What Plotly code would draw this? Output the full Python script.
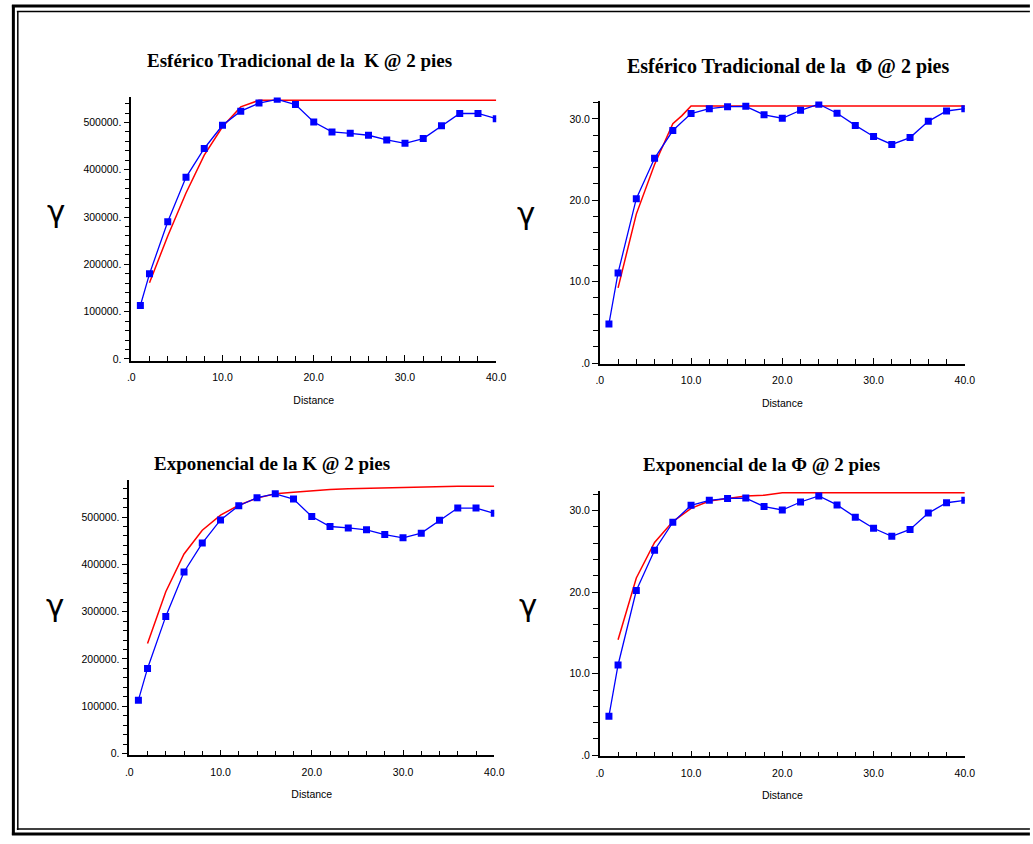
import plotly.graph_objects as go

# ---------------- data ----------------
lags = [1, 2, 4, 6, 8, 10, 12, 14, 16, 18, 20, 22, 24, 26, 28, 30, 32, 34, 36, 38, 40]
k_experimental = [113000, 180000, 290000, 384000, 445000, 494000, 524000, 541000, 549000, 538000,
                  501000, 480000, 477000, 473000, 463000, 456000, 466000, 493000, 519000, 519000, 508000]
phi_experimental = [4.8, 11.07, 20.2, 25.15, 28.57, 30.65, 31.26, 31.5, 31.54, 30.5,
                    30.08, 31.06, 31.8, 30.7, 29.2, 27.84, 26.86, 27.7, 29.7, 30.97, 31.26]

k_sph_lags = [2, 4, 6, 8, 10, 12, 14, 40]
k_spherical = [161000, 260000, 351000, 431000, 491000, 533000, 547000, 547000]

phi_sph_lags = [2, 4, 6, 8, 9, 10, 40]
phi_spherical = [9.24, 18.3, 24.4, 29.4, 30.4, 31.6, 31.6]

exp_lags = [2, 4, 6, 8, 10, 12, 14, 16, 18, 20, 22, 24, 26, 28, 30, 32, 34, 36, 38, 40]
k_exponential = [232500, 342000, 422000, 472000, 504000, 525000, 540000, 549000, 552500, 556000,
                 558000, 560000, 561000, 562000, 563000, 564000, 564500, 565000, 565000, 565000]
phi_exponential = [14.17, 21.75, 26.1, 28.66, 30.28, 31.18, 31.5, 31.8, 31.9, 32.2,
                   32.2, 32.2, 32.2, 32.2, 32.2, 32.2, 32.2, 32.2, 32.2, 32.2]

x_tick_vals = [0, 10, 20, 30, 40]
x_tick_text = [".0", "10.0", "20.0", "30.0", "40.0"]
k_tick_vals = [0, 100000, 200000, 300000, 400000, 500000]
k_tick_text = ["0.", "100000.", "200000.", "300000.", "400000.", "500000."]
phi_tick_vals = [0, 10, 20, 30]
phi_tick_text = [".0", "10.0", "20.0", "30.0"]

titles = ["Esférico Tradicional de la  K @ 2 pies",
          "Esférico Tradicional de la  Φ @ 2 pies",
          "Exponencial de la K @ 2 pies",
          "Exponencial de la Φ @ 2 pies"]

W, H = 1033, 844
BLUE = "#0000FF"
RED = "#FF0000"
TICKFONT = dict(family="Liberation Sans, Arial", size=10.5, color="black")

fig = go.Figure()

panels = [
    (lags, k_experimental, k_sph_lags, k_spherical, (129, 499), (98, 363), [-4000, 553000], k_tick_vals, k_tick_text, 20000),
    (lags, phi_experimental, phi_sph_lags, phi_spherical, (604, 974), (102, 366), [-0.1, 32.15], phi_tick_vals, phi_tick_text, 2),
    (lags, k_experimental, exp_lags, k_exponential, (127, 497), (483, 760), [-4000, 578000], k_tick_vals, k_tick_text, 20000),
    (lags, phi_experimental, exp_lags, phi_exponential, (604, 974), (494, 761), [-0.15, 32.4], phi_tick_vals, phi_tick_text, 2),
]

for i, (xe, ye, xm, ym, xpx, ypx, yr, ytv, ytt, mdy) in enumerate(panels):
    n = "" if i == 0 else str(i + 1)
    xa, ya = "x" + n, "y" + n
    fig.add_trace(go.Scatter(x=xm, y=ym, mode="lines", line=dict(color=RED, width=1.5),
                             xaxis=xa, yaxis=ya, showlegend=False, hoverinfo="skip"))
    fig.add_trace(go.Scatter(x=xe, y=ye, mode="lines+markers", line=dict(color=BLUE, width=1.3),
                             marker=dict(symbol="square", size=7, color=BLUE),
                             xaxis=xa, yaxis=ya, showlegend=False))
    xdom = [xpx[0] / W, xpx[1] / W]
    ydom = [1 - ypx[1] / H, 1 - ypx[0] / H]
    fig.layout["xaxis" + n] = dict(
        domain=xdom, range=[0, 40], anchor=ya, showgrid=False, zeroline=False,
        showline=True, linecolor="black", linewidth=1.5,
        tickmode="array", tickvals=x_tick_vals, ticktext=x_tick_text,
        ticks="inside", ticklen=6, tickwidth=1.2, tickcolor="black",
        minor=dict(dtick=2, tick0=0, ticks="inside", ticklen=5, tickwidth=1.2, tickcolor="black"),
        tickfont=TICKFONT, ticklabelstandoff=6,
        title=dict(text="Distance", font=dict(family="Liberation Sans, Arial", size=10.5, color="black"), standoff=14),
    )
    fig.layout["yaxis" + n] = dict(
        domain=ydom, range=yr, anchor=xa, showgrid=False, zeroline=False,
        showline=True, linecolor="black", linewidth=1.5,
        tickmode="array", tickvals=ytv, ticktext=ytt,
        ticks="outside", ticklen=6, tickwidth=1.2, tickcolor="black",
        minor=dict(dtick=mdy, tick0=0, ticks="outside", ticklen=5, tickwidth=1.2, tickcolor="black"),
        tickfont=TICKFONT, ticklabelstandoff=0,
    )

# titles
title_pos = [(300, 61, 19), (795, 67, 20), (272, 466, 19), (768, 467, 19)]
for t, (tx, ty, ts) in zip(titles, title_pos):
    fig.add_annotation(text="<b>" + t + "</b>", x=tx / W, y=1 - ty / H, xref="paper", yref="paper",
                       showarrow=False, xanchor="center", yanchor="middle",
                       font=dict(family="Liberation Serif, Times New Roman", size=ts, color="black"))

# gamma labels
for gx, gy in [(53, 212), (529, 214), (52, 609), (531, 609)]:
    fig.add_annotation(text="γ", x=gx / W, y=1 - gy / H, xref="paper", yref="paper",
                       showarrow=False, xanchor="center", yanchor="middle",
                       font=dict(family="DejaVu Sans", size=31, color="black"))

# double frame
def hline(y, x0, x1, w):
    fig.add_shape(type="line", xref="paper", yref="paper", x0=x0 / W, x1=x1 / W,
                  y0=1 - y / H, y1=1 - y / H, line=dict(color="black", width=w))

def vline(x, y0, y1, w):
    fig.add_shape(type="line", xref="paper", yref="paper", x0=x / W, x1=x / W,
                  y0=1 - y0 / H, y1=1 - y1 / H, line=dict(color="black", width=w))

hline(6, 8, 1040, 3)
hline(11.5, 13, 1040, 1.5)
vline(9.5, 5, 840, 3)
vline(14, 11, 835, 1.5)
hline(839, 8, 1040, 3)
hline(834, 13, 1040, 1.5)

fig.update_layout(width=W, height=H, margin=dict(l=0, r=0, t=0, b=0),
                  paper_bgcolor="white", plot_bgcolor="white")

fig.write_html("out.html")
